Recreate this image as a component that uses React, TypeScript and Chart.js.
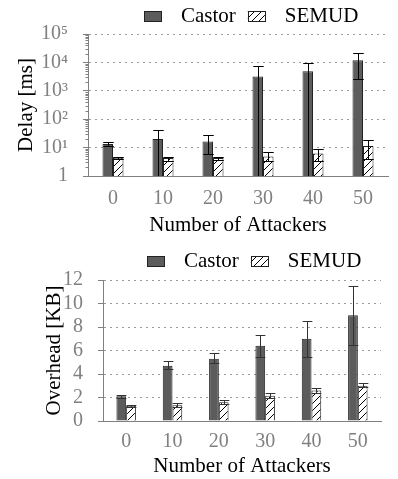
import React, { useEffect, useRef } from 'react';
import { Chart, registerables } from 'chart.js';

Chart.register(...registerables);

// ---------------- data ----------------
const categories = ['0', '10', '20', '30', '40', '50'];
const seriesNames = ['Castor', 'SEMUD'];

const delayCastor = [13.5, 20, 16.5, 3200, 4900, 12000];
const delayCastorLow = [11, 1, 5.8, 1, 1, 2500];
const delayCastorHigh = [16, 42, 27, 7300, 9800, 21000];
const delaySemud = [4.4, 4.3, 4.3, 4.9, 6.2, 11.5];
const delaySemudLow = [4.0, 3.4, 3.6, 3.3, 3.3, 4.0];
const delaySemudHigh = [4.6, 4.6, 4.7, 7.0, 9.0, 19];
const delayTicks = [1, 10, 100, 1000, 10000, 100000];
const delayTickLabels = ['1', '10¹', '10²', '10³', '10⁴', '10⁵'];

const overheadCastor = [2.1, 4.7, 5.3, 6.4, 7.0, 9.0];
const overheadCastorLow = [2.0, 4.4, 4.9, 5.45, 5.45, 6.5];
const overheadCastorHigh = [2.2, 5.1, 5.75, 7.35, 8.55, 11.5];
const overheadSemud = [1.3, 1.35, 1.6, 2.15, 2.6, 3.0];
const overheadSemudLow = [1.2, 1.2, 1.45, 2.0, 2.4, 2.9];
const overheadSemudHigh = [1.4, 1.5, 1.75, 2.35, 2.85, 3.2];

const xTitle = 'Number of Attackers';
const delayTitle = 'Delay [ms]';
const overheadTitle = 'Overhead [KB]';

// ---------------- style ----------------
const FONT = '"Liberation Serif", "DejaVu Serif", serif';
const GRAY = '#808080';
const CASTOR_FILL = '#5c5c5c';
const EDGE = '#222222';

function makeHatch(): CanvasPattern | string {
  const s = 7;
  const c = document.createElement('canvas');
  c.width = s;
  c.height = s;
  const g = c.getContext('2d');
  if (!g) return '#fff';
  g.fillStyle = '#fff';
  g.fillRect(0, 0, s, s);
  g.strokeStyle = '#000';
  g.lineWidth = 1;
  g.beginPath();
  g.moveTo(0, s);
  g.lineTo(s, 0);
  g.moveTo(-1, 1);
  g.lineTo(1, -1);
  g.moveTo(s - 1, s + 1);
  g.lineTo(s + 1, s - 1);
  g.stroke();
  return g.createPattern(c, 'repeat') || '#fff';
}

const errorBarPlugin = {
  id: 'errorBars',
  afterDatasetsDraw(chart: any, _args: any, opts: any) {
    const { ctx, chartArea } = chart;
    const y = chart.scales.y;
    ctx.save();
    ctx.beginPath();
    ctx.rect(chartArea.left, chartArea.top - 1, chartArea.right - chartArea.left, chartArea.bottom - chartArea.top + 1);
    ctx.clip();
    ctx.strokeStyle = opts.color || '#000';
    ctx.lineWidth = 1;
    chart.data.datasets.forEach((ds: any, i: number) => {
      const meta = chart.getDatasetMeta(i);
      meta.data.forEach((el: any, j: number) => {
        const lo = ds.errLow[j];
        const hi = ds.errHigh[j];
        const x = Math.round(el.x) + 0.5;
        const half = el.width / 2;
        const yl = Math.round(y.getPixelForValue(lo)) + 0.5;
        const yh = Math.round(y.getPixelForValue(hi)) + 0.5;
        ctx.beginPath();
        ctx.moveTo(x, yl);
        ctx.lineTo(x, yh);
        ctx.moveTo(x - half, yh);
        ctx.lineTo(x + half, yh);
        ctx.moveTo(x - half, yl);
        ctx.lineTo(x + half, yl);
        ctx.stroke();
      });
    });
    ctx.restore();
  },
};

const legendPlugin = {
  id: 'customLegend',
  afterDraw(chart: any, _args: any, opts: any) {
    const { ctx } = chart;
    ctx.save();
    ctx.font = `21px ${FONT}`;
    ctx.textBaseline = 'middle';
    ctx.textAlign = 'left';
    let x = opts.x;
    const yc = opts.y;
    chart.data.datasets.forEach((ds: any) => {
      const bw = 17;
      const bh = 10;
      ctx.fillStyle = ds.backgroundColor;
      ctx.fillRect(x, yc - bh / 2, bw, bh);
      ctx.strokeStyle = EDGE;
      ctx.lineWidth = 1;
      ctx.strokeRect(Math.round(x) + 0.5, Math.round(yc - bh / 2) + 0.5, bw, bh);
      x += bw + 20;
      ctx.fillStyle = '#000';
      ctx.fillText(ds.label, x, yc);
      x += ctx.measureText(ds.label).width + 12;
    });
    ctx.restore();
  },
};

const minorTickPlugin = {
  id: 'minorTicks',
  afterDraw(chart: any, _args: any, opts: any) {
    if (!opts || !opts.enabled) return;
    const { ctx, chartArea } = chart;
    const y = chart.scales.y;
    ctx.save();
    ctx.strokeStyle = GRAY;
    ctx.lineWidth = 1;
    const x0 = Math.round(chartArea.left) + 0.5;
    for (let k = 0; k < 5; k++) {
      for (let m = 2; m <= 9; m++) {
        const v = m * Math.pow(10, k);
        const py = Math.round(y.getPixelForValue(v)) + 0.5;
        ctx.beginPath();
        ctx.moveTo(x0 - 3, py);
        ctx.lineTo(x0, py);
        ctx.stroke();
      }
    }
    ctx.restore();
  },
};

type PanelProps = {
  width: number;
  height: number;
  castor: number[];
  castorLow: number[];
  castorHigh: number[];
  semud: number[];
  semudLow: number[];
  semudHigh: number[];
  log: boolean;
  yTitle: string;
  layout: {
    top: number;
    right: number;
    yWidth: number;
    xHeight: number;
    yTitlePad: number;
    yTickPad: number;
    xTickPad: number;
    xTitlePad: number;
    legendX: number;
    legendY: number;
    errColor: string;
  };
};

function BarPanel(p: PanelProps) {
  const ref = useRef<HTMLCanvasElement | null>(null);
  useEffect(() => {
    if (!ref.current) return;
    const hatch = makeHatch();
    const L = p.layout;
    const yScale: any = p.log
      ? {
          type: 'logarithmic',
          min: 1,
          max: 100000,
          afterBuildTicks: (s: any) => {
            s.ticks = delayTicks.map((v) => ({ value: v }));
          },
          ticks: {
            callback: (_v: any, i: number) => delayTickLabels[i],
          },
        }
      : {
          type: 'linear',
          min: 0,
          max: 12,
          ticks: { stepSize: 2 },
        };
    yScale.afterFit = (s: any) => {
      s.width = L.yWidth;
    };
    yScale.ticks = {
      ...yScale.ticks,
      autoSkip: false,
      color: GRAY,
      padding: L.yTickPad,
      font: { family: FONT, size: 20 },
    };
    yScale.grid = {
      color: '#9a9a9a',
      lineWidth: 1,
      drawTicks: true,
      tickLength: 5,
      tickColor: GRAY,
    };
    yScale.border = { display: true, color: GRAY, width: 1, dash: [2, 4] };
    yScale.title = {
      display: true,
      text: p.yTitle,
      color: '#000',
      font: { family: FONT, size: 21 },
      padding: { top: L.yTitlePad, bottom: 0 },
    };

    const chart = new Chart(ref.current, {
      type: 'bar',
      data: {
        labels: categories,
        datasets: [
          {
            label: seriesNames[0],
            data: p.castor,
            backgroundColor: CASTOR_FILL,
            borderColor: EDGE,
            borderWidth: 1,
            categoryPercentage: 0.42,
            barPercentage: 1,
            errLow: p.castorLow,
            errHigh: p.castorHigh,
          } as any,
          {
            label: seriesNames[1],
            data: p.semud,
            backgroundColor: hatch,
            borderColor: EDGE,
            borderWidth: 1,
            categoryPercentage: 0.42,
            barPercentage: 1,
            errLow: p.semudLow,
            errHigh: p.semudHigh,
          } as any,
        ],
      },
      options: {
        responsive: false,
        animation: false,
        devicePixelRatio: 1,
        font: { family: FONT },
        layout: { padding: { top: L.top, right: L.right, left: 0, bottom: 0 } },
        scales: {
          x: {
            grid: { display: false, drawTicks: false },
            border: { display: true, color: GRAY, width: 1 },
            ticks: { color: GRAY, padding: L.xTickPad, autoSkip: false, font: { family: FONT, size: 20 } },
            title: {
              display: true,
              text: xTitle,
              color: '#000',
              font: { family: FONT, size: 21 },
              padding: { top: 0, bottom: L.xTitlePad },
            },
            afterFit: (s: any) => {
              s.height = L.xHeight;
            },
          },
          y: yScale,
        },
        plugins: {
          legend: { display: false },
          tooltip: { enabled: false },
          errorBars: { color: L.errColor },
          customLegend: { x: L.legendX, y: L.legendY },
          minorTicks: { enabled: p.log },
        } as any,
      } as any,
      plugins: [errorBarPlugin, legendPlugin, minorTickPlugin],
    });
    return () => chart.destroy();
  }, []);
  return (
    <canvas
      ref={ref}
      width={p.width}
      height={p.height}
      style={{ width: p.width, height: p.height, display: 'block' }}
    />
  );
}

export default function App() {
  return (
    <div style={{ position: 'fixed', left: 0, top: 0, width: 398, height: 479, background: '#fff' }}>
      <div style={{ position: 'absolute', left: 0, top: 0 }}>
        <BarPanel
          width={398}
          height={240}
          castor={delayCastor}
          castorLow={delayCastorLow}
          castorHigh={delayCastorHigh}
          semud={delaySemud}
          semudLow={delaySemudLow}
          semudHigh={delaySemudHigh}
          log={true}
          yTitle={delayTitle}
          layout={{
            top: 34,
            right: 10,
            yWidth: 88,
            xHeight: 64,
            yTitlePad: 14,
            yTickPad: 15,
            xTickPad: 11,
            xTitlePad: 2,
            legendX: 144,
            legendY: 16,
            errColor: '#000',
          }}
        />
      </div>
      <div style={{ position: 'absolute', left: 0, top: 240 }}>
        <BarPanel
          width={398}
          height={239}
          castor={overheadCastor}
          castorLow={overheadCastorLow}
          castorHigh={overheadCastorHigh}
          semud={overheadSemud}
          semudLow={overheadSemudLow}
          semudHigh={overheadSemudHigh}
          log={false}
          yTitle={overheadTitle}
          layout={{
            top: 40,
            right: 17,
            yWidth: 103,
            xHeight: 58,
            yTitlePad: 42,
            yTickPad: 15,
            xTickPad: 9,
            xTitlePad: 0,
            legendX: 147,
            legendY: 21,
            errColor: '#333',
          }}
        />
      </div>
    </div>
  );
}
